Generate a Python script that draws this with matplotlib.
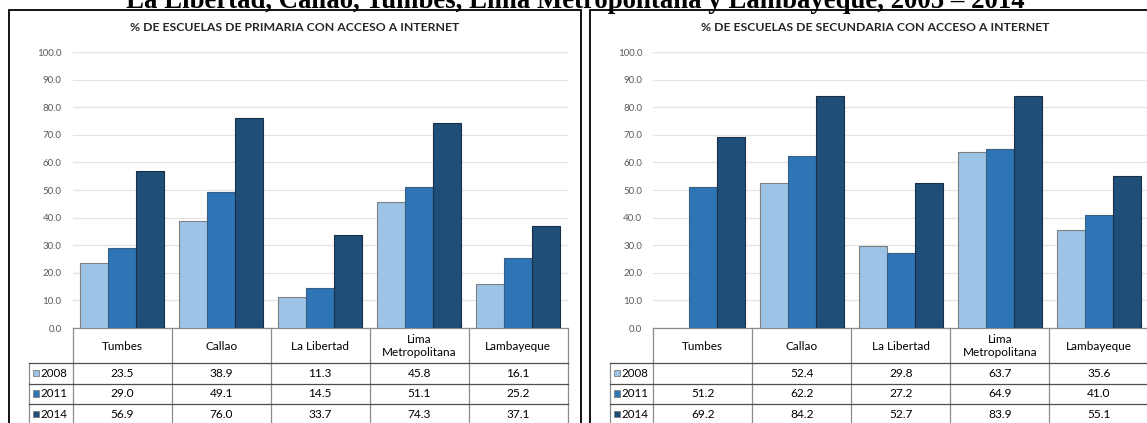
import numpy as np
import matplotlib
matplotlib.use("Agg")
import matplotlib.pyplot as plt
from matplotlib import transforms
from matplotlib.patches import Rectangle
from matplotlib.lines import Line2D

# ---------------- data ----------------
categories = ["Tumbes", "Callao", "La Libertad", "Lima\nMetropolitana", "Lambayeque"]
years = ["2008", "2011", "2014"]
primaria_2008 = [23.5, 38.9, 11.3, 45.8, 16.1]
primaria_2011 = [29.0, 49.1, 14.5, 51.1, 25.2]
primaria_2014 = [56.9, 76.0, 33.7, 74.3, 37.1]
secundaria_2008 = [np.nan, 52.4, 29.8, 63.7, 35.6]
secundaria_2011 = [51.2, 62.2, 27.2, 64.9, 41.0]
secundaria_2014 = [69.2, 84.2, 52.7, 83.9, 55.1]
yticks = [0, 10, 20, 30, 40, 50, 60, 70, 80, 90, 100]
main_title = "La Libertad, Callao, Tumbes, Lima Metropolitana y Lambayeque, 2005 \u2013 2014"
titles = ["% DE ESCUELAS DE PRIMARIA CON ACCESO A INTERNET",
          "% DE ESCUELAS DE SECUNDARIA CON ACCESO A INTERNET"]

colors = ["#9DC3E6", "#2E75B6", "#1F4E79"]
edge_colors = ["#7F7F7F", "#3A5F85", "#1A2F45"]

W, H = 1147, 423
fig = plt.figure(figsize=(W / 100, H / 100), dpi=100)
fig.patch.set_facecolor("white")

FONT = ["Lato", "DejaVu Sans"]

def fx(px):
    return px / W

def fy(py):
    return 1 - py / H

# main title (clipped at the top, as in the source)
fig.text(0.502, fy(8), main_title, ha="center", va="baseline",
         fontsize=19.3, fontweight="bold", family="Liberation Serif", color="black")

# panel frames
for (x0, x1) in [(9, 581), (590, 1165)]:
    fig.patches.append(Rectangle((fx(x0), fy(440)), fx(x1) - fx(x0), fy(10.5) - fy(440),
                                 transform=fig.transFigure, fill=False,
                                 edgecolor="black", linewidth=1.3, zorder=0))

panels = [
    dict(left=72.7, center=295, data=[primaria_2008, primaria_2011, primaria_2014], title=titles[0]),
    dict(left=653.3, center=875, data=[secundaria_2008, secundaria_2011, secundaria_2014], title=titles[1]),
]

cat_w = 99.0
ax_top, ax_bot = 52, 328
row_lines = [363, 383.5, 404, 424.5]

for p in panels:
    ax = fig.add_axes([fx(p["left"]), fy(ax_bot), 5 * cat_w / W, (ax_bot - ax_top) / H])
    x = np.arange(len(categories))
    bw = 0.284
    for i, (vals, c, ec) in enumerate(zip(p["data"], colors, edge_colors)):
        ax.bar(x + (i - 1) * bw, vals, width=bw, color=c, edgecolor=ec, linewidth=0.8, zorder=3)
    ax.set_xlim(-0.5, 4.5)
    ax.set_ylim(0, 100)
    ax.set_yticks(yticks)
    ax.set_yticklabels([f"{t:.1f}" for t in yticks], family=FONT, fontsize=7, color="#595959")
    ax.tick_params(axis="y", length=0, pad=8)
    ax.set_xticks([])
    ax.grid(axis="y", color="#E3E3E3", linewidth=0.9, zorder=0)
    for s in ["top", "right", "left"]:
        ax.spines[s].set_visible(False)
    ax.spines["bottom"].set_color("#8C8C8C")
    ax.spines["bottom"].set_linewidth(0.9)

    fig.text(fx(p["center"]), fy(27.5), p["title"], ha="center", va="center",
             fontsize=8.8, fontweight="bold", family=FONT, color="#262626")

    # ---- data table ----
    tr = transforms.blended_transform_factory(ax.transData, ax.transAxes)
    def ay(py):
        return (ax_bot - py) / (ax_bot - ax_top)
    leg_left = -0.5 - 43.7 / cat_w
    for k in range(6):
        ax.add_line(Line2D([k - 0.5, k - 0.5], [ay(ax_bot), ay(440)], transform=tr,
                           color="#8C8C8C", linewidth=0.9, clip_on=False))
    ax.add_line(Line2D([leg_left, leg_left], [ay(row_lines[0]), ay(440)], transform=tr,
                       color="#8C8C8C", linewidth=0.9, clip_on=False))
    for ry in row_lines:
        ax.add_line(Line2D([leg_left, 4.5], [ay(ry), ay(ry)], transform=tr,
                           color="#4D4D4D", linewidth=0.9, clip_on=False))
    for k, cat in enumerate(categories):
        ax.text(k, ay((ax_bot + row_lines[0]) / 2 + 0.5), cat, transform=tr, ha="center", va="center",
                fontsize=8.5, family=FONT, color="black", linespacing=1.3, clip_on=False)
    for r, (yr, vals, c) in enumerate(zip(years, p["data"], colors)):
        yc = ay((row_lines[r] + row_lines[r + 1]) / 2)
        ax.add_patch(Rectangle((leg_left + 4 / cat_w, yc - 3 / (ax_bot - ax_top)),
                               6 / cat_w, 6.5 / (ax_bot - ax_top), transform=tr,
                               facecolor=c, edgecolor="#7F7F7F", linewidth=0.6, clip_on=False))
        ax.text(leg_left + 11.5 / cat_w, yc, yr, transform=tr, ha="left", va="center",
                fontsize=8.3, family=FONT, color="black", clip_on=False)
        for k, v in enumerate(vals):
            s = "" if np.isnan(v) else f"{v:.1f}"
            ax.text(k, yc, s, transform=tr, ha="center", va="center",
                    fontsize=8.6, family=FONT, color="black", clip_on=False)

fig.savefig("out.png", dpi=100, facecolor="white")
